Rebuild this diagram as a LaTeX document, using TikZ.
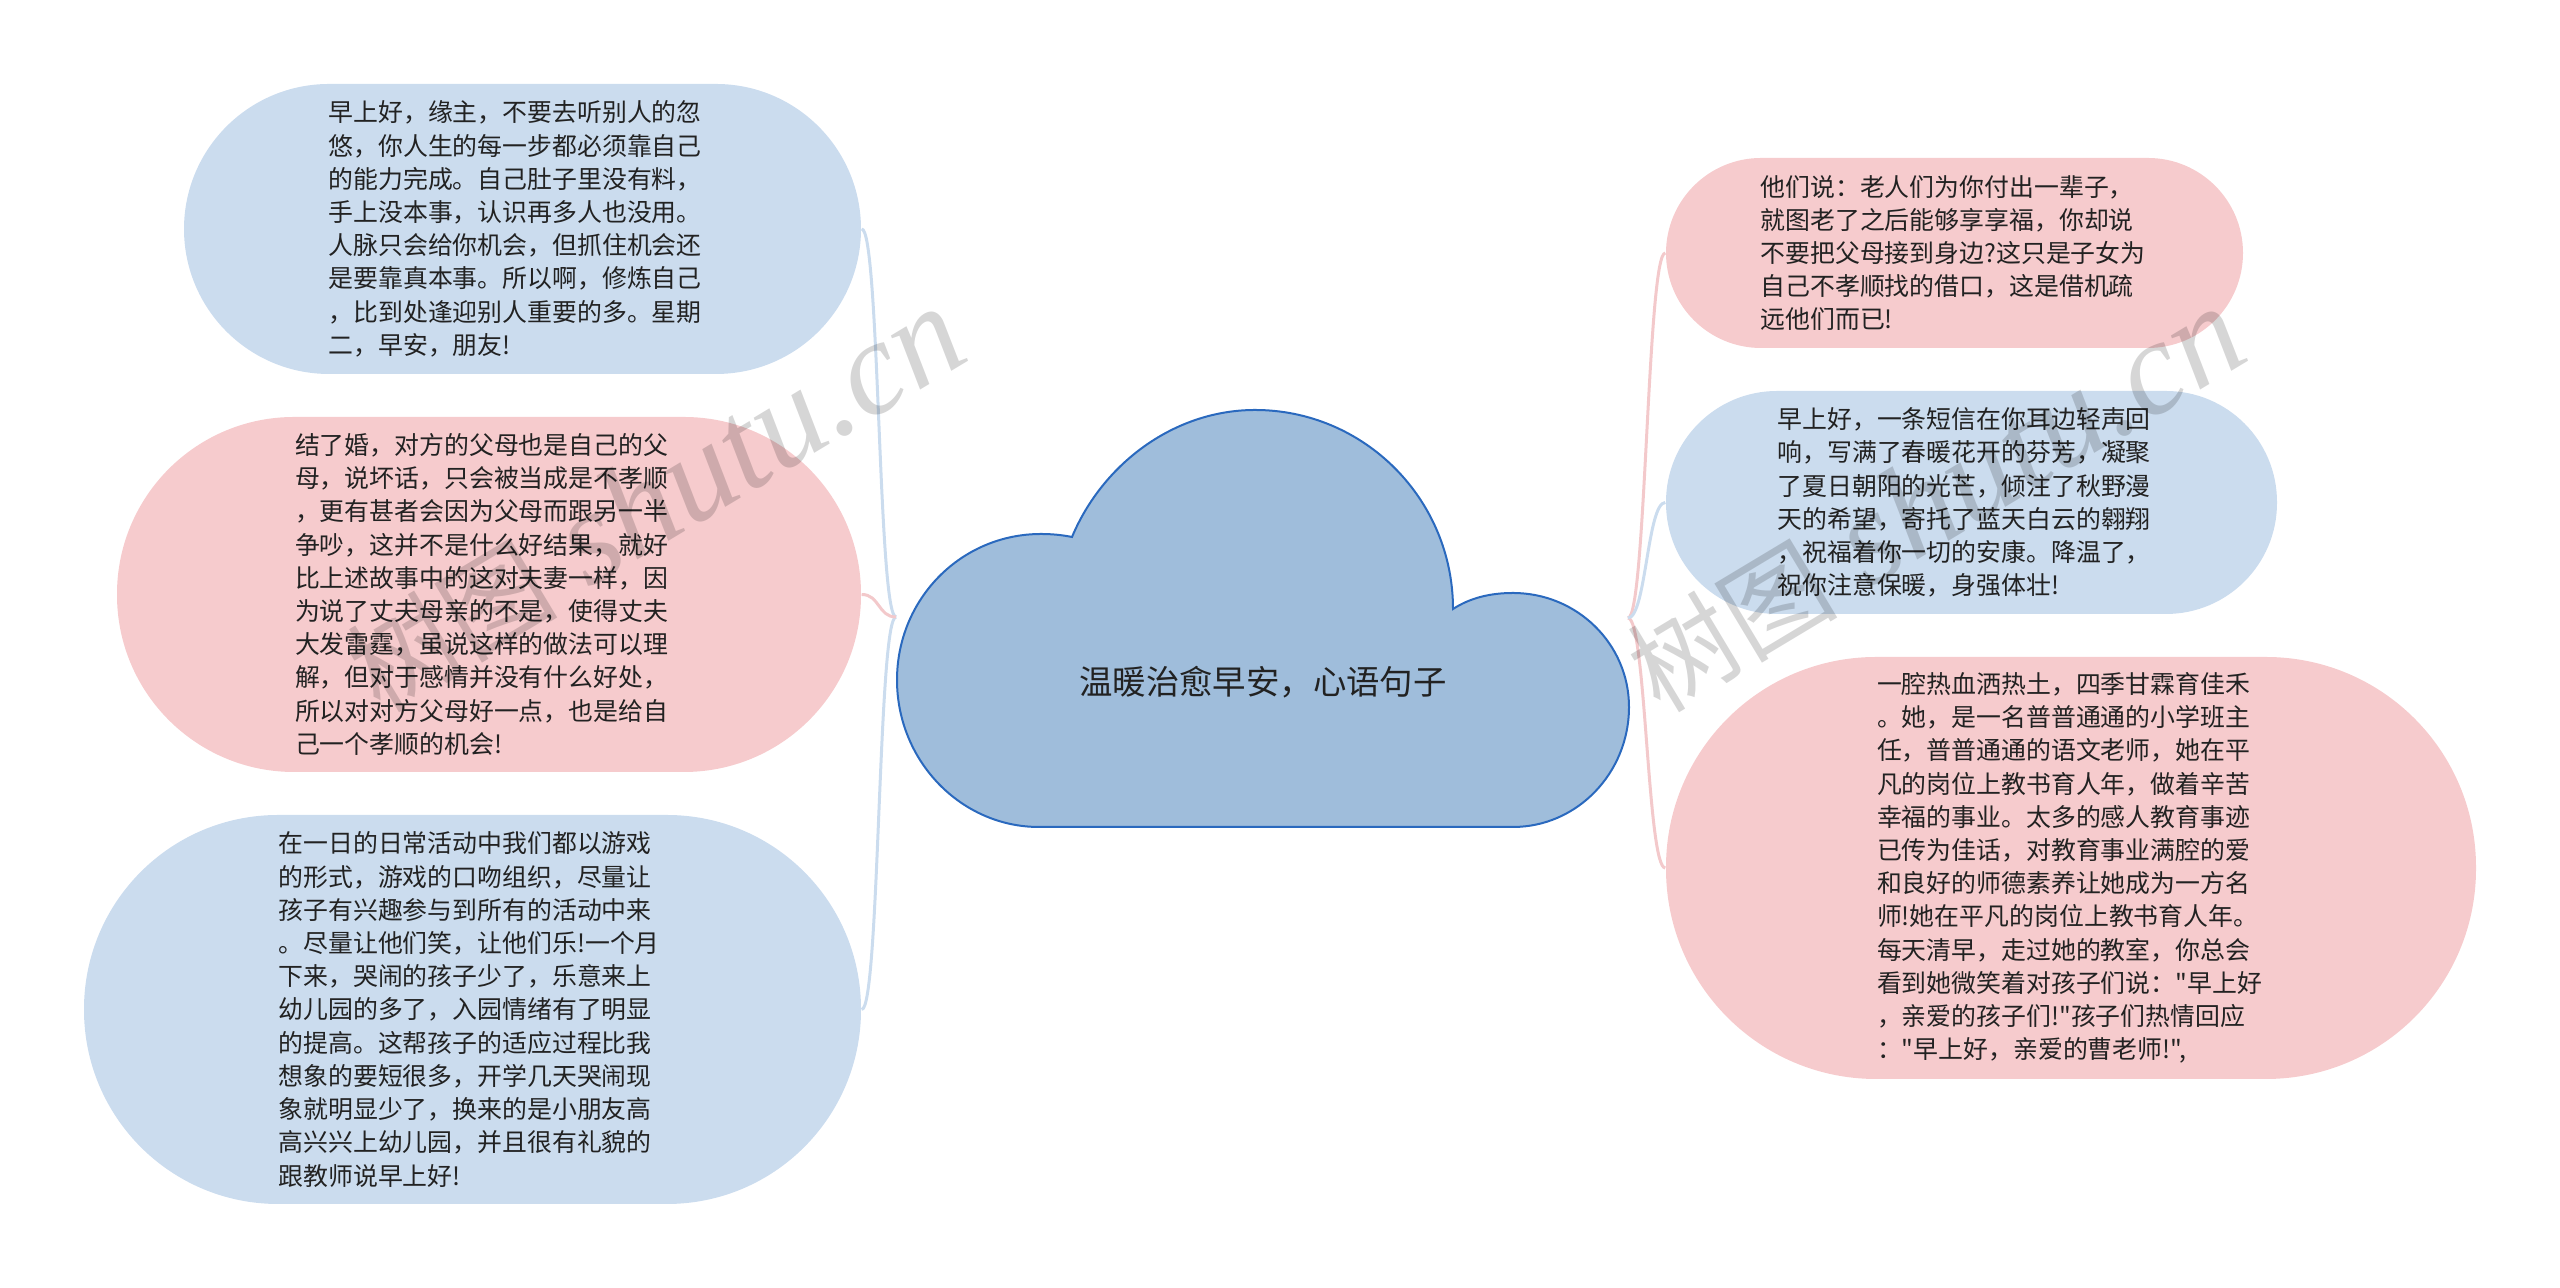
\documentclass[tikz,border=0pt]{standalone}
\usepackage{fontspec}
\newfontfamily\zhfont{Noto Sans CJK SC}
\newfontfamily\markfont{Liberation Serif}

\definecolor{cloudfill}{HTML}{9FBDDB}
\definecolor{cloudline}{HTML}{2A69BE}
\definecolor{bubbleblue}{HTML}{CBDCEE}
\definecolor{bubblepink}{HTML}{F6CBCD}
\definecolor{linkblue}{HTML}{CBDCEE}
\definecolor{linkpink}{HTML}{F3C9CB}
\definecolor{inktext}{HTML}{222222}

\tikzset{
	bubble/.style = {rectangle, inner sep = 0, text width = 3.88 cm, align = left, text = inktext, font = \zhfont\fontsize{7.08}{9.45}\selectfont},
	bluebubble/.style = {bubble, fill = bubbleblue},
	pinkbubble/.style = {bubble, fill = bubblepink},
	rootlabel/.style = {inner sep = 0, text = inktext, font = \zhfont\fontsize{9.5}{11}\selectfont},
	bluelink/.style = {draw = linkblue, line width = 0.03 cm},
	pinklink/.style = {draw = linkpink, line width = 0.03 cm},
	watermark/.style = {inner sep = 0, anchor = base west, rotate = 31, text = black, text opacity = 0.16, font = \fontsize{30}{30}\selectfont}
}

\begin{document}
\begin{tikzpicture}

	\useasboundingbox (0, 0) rectangle (25.6, 12.88);

	% Cloud

	\draw [fill = cloudfill, draw = cloudline, line width = 0.02 cm] (10.39, 4.61)
		.. controls (9.61, 4.61) and (8.97, 5.27) .. (8.97, 6.08)
		.. controls (8.97, 6.89) and (9.61, 7.54) .. (10.41, 7.54)
		.. controls (10.52, 7.54) and (10.62, 7.53) .. (10.72, 7.51)
		.. controls (11.03, 8.25) and (11.75, 8.78) .. (12.55, 8.78)
		.. controls (13.64, 8.78) and (14.53, 7.89) .. (14.53, 6.79)
		.. controls (14.70, 6.90) and (14.90, 6.95) .. (15.13, 6.95)
		.. controls (15.77, 6.95) and (16.29, 6.44) .. (16.29, 5.81)
		.. controls (16.29, 5.15) and (15.77, 4.61) .. (15.13, 4.61)
		-- cycle;
	\node [rootlabel] (root) at (12.63, 6.06) {温暖治愈早安，心语句子};

	% Left bubbles

	\node [bluebubble, minimum width = 6.77 cm, minimum height = 2.90 cm, rounded corners = 1.45 cm] (morning) at (5.225, 10.59) {
		早上好，缘主，不要去听别人的忽\\
		悠，你人生的每一步都必须靠自己\\
		的能力完成。自己肚子里没有料，\\
		手上没本事，认识再多人也没用。\\
		人脉只会给你机会，但抓住机会还\\
		是要靠真本事。所以啊，修炼自己\\
		，比到处逢迎别人重要的多。星期\\
		二，早安，朋友!};

	\node [pinkbubble, minimum width = 7.44 cm, minimum height = 3.55 cm, rounded corners = 1.77 cm] (marriage) at (4.89, 6.935) {
		结了婚，对方的父母也是自己的父\\
		母，说坏话，只会被当成是不孝顺\\
		，更有甚者会因为父母而跟另一半\\
		争吵，这并不是什么好结果，就好\\
		比上述故事中的这对夫妻一样，因\\
		为说了丈夫母亲的不是，使得丈夫\\
		大发雷霆，虽说这样的做法可以理\\
		解，但对于感情并没有什么好处，\\
		所以对对方父母好一点，也是给自\\
		己一个孝顺的机会!};

	\node [bluebubble, minimum width = 7.77 cm, minimum height = 3.89 cm, rounded corners = 1.94 cm] (games) at (4.725, 2.785) {
		在一日的日常活动中我们都以游戏\\
		的形式，游戏的口吻组织，尽量让\\
		孩子有兴趣参与到所有的活动中来\\
		。尽量让他们笑，让他们乐!一个月\\
		下来，哭闹的孩子少了，乐意来上\\
		幼儿园的多了，入园情绪有了明显\\
		的提高。这帮孩子的适应过程比我\\
		想象的要短很多，开学几天哭闹现\\
		象就明显少了，换来的是小朋友高\\
		高兴兴上幼儿园，并且很有礼貌的\\
		跟教师说早上好!};

	% Right bubbles

	\node [pinkbubble, minimum width = 5.77 cm, minimum height = 1.90 cm, rounded corners = 0.95 cm] (parents) at (19.545, 10.35) {
		他们说：老人们为你付出一辈子，\\
		就图老了之后能够享享福，你却说\\
		不要把父母接到身边?这只是子女为\\
		自己不孝顺找的借口，这是借机疏\\
		远他们而已!};

	\node [bluebubble, minimum width = 6.11 cm, minimum height = 2.23 cm, rounded corners = 1.11 cm] (message) at (19.715, 7.855) {
		早上好，一条短信在你耳边轻声回\\
		响，写满了春暖花开的芬芳，凝聚\\
		了夏日朝阳的光芒，倾注了秋野漫\\
		天的希望，寄托了蓝天白云的翱翔\\
		，祝福着你一切的安康。降温了，\\
		祝你注意保暖，身强体壮!};

	\node [pinkbubble, minimum width = 8.10 cm, minimum height = 4.22 cm, rounded corners = 2.10 cm] (teacher) at (20.71, 4.20) {
		一腔热血洒热土，四季甘霖育佳禾\\
		。她，是一名普普通通的小学班主\\
		任，普普通通的语文老师，她在平\\
		凡的岗位上教书育人年，做着辛苦\\
		幸福的事业。太多的感人教育事迹\\
		已传为佳话，对教育事业满腔的爱\\
		和良好的师德素养让她成为一方名\\
		师!她在平凡的岗位上教书育人年。\\
		每天清早，走过她的教室，你总会\\
		看到她微笑着对孩子们说："早上好\\
		，亲爱的孩子们!"孩子们热情回应\\
		："早上好，亲爱的曹老师!",};

	% Links

	\coordinate (lefthub) at (8.96, 6.71);
	\coordinate (righthub) at (16.28, 6.70);

	\foreach \bub in {morning, games}
		\draw [bluelink] (\bub.east) .. controls +(0.18, 0) and +(-0.18, 0) .. (lefthub);
	\draw [pinklink] (marriage.east) .. controls +(0.18, 0) and +(-0.18, 0) .. (lefthub);

	\foreach \bub in {parents, teacher}
		\draw [pinklink] (\bub.west) .. controls +(-0.18, 0) and +(0.18, 0) .. (righthub);
	\draw [bluelink] (message.west) .. controls +(-0.18, 0) and +(0.18, 0) .. (righthub);

	% Watermarks

	\node [watermark] (markleft) at (3.80, 5.73) {{\zhfont 树图} {\markfont\itshape\fontsize{38}{38}\selectfont shutu.cn}};
	\node [watermark] (markright) at (16.60, 5.73) {{\zhfont 树图} {\markfont\itshape\fontsize{38}{38}\selectfont shutu.cn}};

\end{tikzpicture}
\end{document}
